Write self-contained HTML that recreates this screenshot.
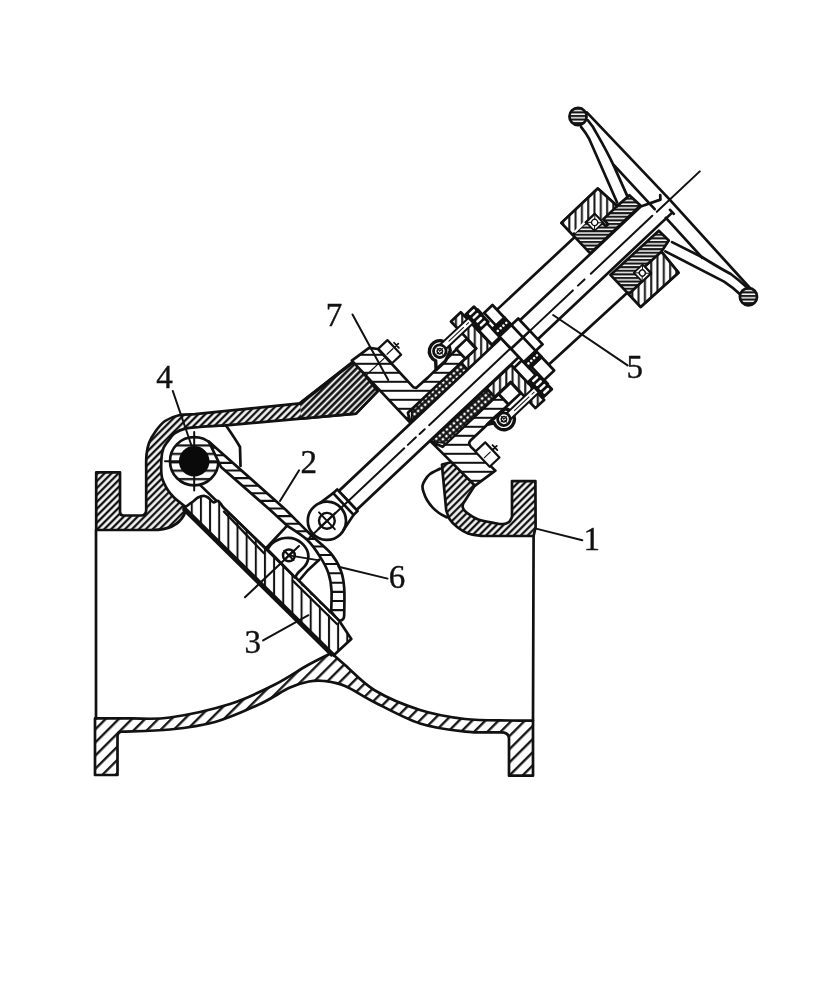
<!DOCTYPE html>
<html><head><meta charset="utf-8"><title>Valve</title>
<style>html,body{margin:0;padding:0;background:#fff}svg{display:block}</style></head>
<body>
<svg width="833" height="994" viewBox="0 0 833 994">
<rect width="833" height="994" fill="#fff"/>
<defs><filter id="nf" x="0" y="0" width="833" height="994" filterUnits="userSpaceOnUse"><feOffset dx="0" dy="0"/></filter></defs>

<defs>
<pattern id="h45" width="6.2" height="6.2" patternUnits="userSpaceOnUse" patternTransform="rotate(-45)"><rect width="6.2" height="6.2" fill="#fff"/><line x1="0" y1="3" x2="6.2" y2="3" stroke="#111" stroke-width="2"/></pattern>
<pattern id="h45b" width="9.3" height="9.3" patternUnits="userSpaceOnUse" patternTransform="rotate(-45) translate(0,2.5)"><rect width="9.3" height="9.3" fill="#fff"/><line x1="0" y1="4" x2="9.3" y2="4" stroke="#111" stroke-width="2.3"/></pattern>
<pattern id="h45d" width="4.5" height="4.5" patternUnits="userSpaceOnUse" patternTransform="rotate(-45)"><rect width="4.5" height="4.5" fill="#fff"/><line x1="0" y1="2" x2="4.5" y2="2" stroke="#111" stroke-width="2.1"/></pattern>
<pattern id="h45k" width="4.6" height="4.6" patternUnits="userSpaceOnUse" patternTransform="rotate(-45)"><rect width="4.6" height="4.6" fill="#fff"/><line x1="0" y1="2" x2="4.6" y2="2" stroke="#111" stroke-width="2.75"/></pattern>
<pattern id="h45e" width="5.3" height="5.3" patternUnits="userSpaceOnUse" patternTransform="rotate(-45)"><rect width="5.3" height="5.3" fill="#fff"/><line x1="0" y1="2" x2="5.3" y2="2" stroke="#111" stroke-width="2.3"/></pattern>
<clipPath id="cpA"><rect x="140" y="380" width="161" height="72"/></clipPath>
<pattern id="h45r" width="4.9" height="4.9" patternUnits="userSpaceOnUse" patternTransform="rotate(-45)"><rect width="4.9" height="4.9" fill="#fff"/><line x1="0" y1="2" x2="4.9" y2="2" stroke="#111" stroke-width="2.4"/></pattern>
<pattern id="hh" width="9" height="9" patternUnits="userSpaceOnUse"><rect width="9" height="9" fill="#fff"/><line x1="0" y1="4" x2="9" y2="4" stroke="#111" stroke-width="2"/></pattern>
<pattern id="hh7" width="8.4" height="8.4" patternUnits="userSpaceOnUse" patternTransform="translate(0,4.7)"><rect width="8.4" height="8.4" fill="#fff"/><line x1="0" y1="4" x2="8.4" y2="4" stroke="#111" stroke-width="2.2"/></pattern>
<pattern id="hh6" width="7.2" height="7.2" patternUnits="userSpaceOnUse"><rect width="7.2" height="7.2" fill="#fff"/><line x1="0" y1="3" x2="7.2" y2="3" stroke="#111" stroke-width="2"/></pattern>
<pattern id="hh3" width="3.6" height="3.6" patternUnits="userSpaceOnUse"><rect width="3.6" height="3.6" fill="#fff"/><line x1="0" y1="2" x2="3.6" y2="2" stroke="#111" stroke-width="1.8"/></pattern>
<pattern id="hv" width="9.15" height="9.15" patternUnits="userSpaceOnUse" patternTransform="translate(196.3,0)"><rect width="9.15" height="9.15" fill="#fff"/><line x1="4.6" y1="0" x2="4.6" y2="9.15" stroke="#111" stroke-width="2"/></pattern>
<pattern id="hv6" width="6" height="6" patternUnits="userSpaceOnUse"><rect width="6" height="6" fill="#fff"/><line x1="3" y1="0" x2="3" y2="6" stroke="#111" stroke-width="2"/></pattern>
<pattern id="hx" width="4.2" height="4.2" patternUnits="userSpaceOnUse" patternTransform="rotate(45)"><rect width="4.2" height="4.2" fill="#fff"/><path d="M0 2H4.2M2 0V4.2" stroke="#111" stroke-width="1.3"/></pattern>
</defs>
<path d="M95.0 718.4C100.8 718.4 117.5 718.5 130.0 718.4 C142.5 718.2 153.3 719.9 170.0 717.5 C186.7 715.1 212.5 709.5 230.0 704.0 C247.5 698.5 262.0 691.0 275.0 684.5 C288.0 678.0 298.6 670.2 308.0 665.0 C317.4 659.8 327.6 655.0 331.5 653.0C333.8 655.0 337.8 658.8 345.0 665.0 C352.2 671.2 362.5 683.0 375.0 690.5 C387.5 698.0 405.0 705.2 420.0 710.0 C435.0 714.8 450.0 717.2 465.0 719.0 C480.0 720.8 498.7 720.2 510.0 720.5 C521.3 720.8 529.2 720.5 533.0 720.5L533.0 775.7 L509.0 775.7 L509.0 738.5Q509 732.3 501 732.3C495.0 732.2 478.5 733.1 465.0 731.6 C451.5 730.1 435.0 728.4 420.0 723.5 C405.0 718.6 387.5 708.8 375.0 702.5 C362.5 696.2 353.5 689.6 345.0 686.0 C336.5 682.4 330.0 681.8 324.0 681.0 C318.0 680.2 314.7 680.4 309.0 681.5 C303.3 682.6 298.2 683.8 290.0 687.5 C281.8 691.2 272.5 698.2 260.0 704.0 C247.5 709.8 230.0 717.8 215.0 722.0 C200.0 726.2 185.5 727.9 170.0 729.5 C154.5 731.1 130.0 731.2 122.0 731.6Q117.5 731.6 117.5 736.5L117.5 775.0 L95.0 775.0Z" fill="url(#h45b)" stroke="#111" stroke-width="2.7" stroke-linejoin="round" stroke-linecap="round" />
<path d="M96 530V718.4" fill="none" stroke="#111" stroke-width="2.7" stroke-linejoin="round" stroke-linecap="round" />
<path d="M533.6 536L533 720.5" fill="none" stroke="#111" stroke-width="2.7" stroke-linejoin="round" stroke-linecap="round" />
<path d="M96.2 472.4L120.0 472.4 L120.0 512.0Q120 515.5 123.5 515.5L141.0 515.5Q146.2 515.5 146.2 510L146.2 470.0C146.2 467.5 146.0 459.5 146.5 455.0 C147.0 450.5 147.5 447.0 149.0 443.0 C150.5 439.0 152.9 434.9 155.6 431.2 C158.3 427.5 161.1 423.7 165.0 421.0 C168.9 418.3 174.0 416.3 179.0 415.2 C184.0 414.1 192.3 414.4 195.0 414.2L300.2 403.4 L354.3 361.1 L377.6 391.2 L356.0 413.6 L226.0 425.3C221.7 425.6 206.8 426.4 200.0 427.0 C193.2 427.6 189.5 427.6 185.3 428.6 C181.1 429.6 177.6 431.3 175.0 433.0 C172.4 434.7 171.5 436.5 169.6 439.0 C167.7 441.5 164.8 444.8 163.5 448.0 C162.2 451.2 161.8 453.5 161.5 458.0 C161.2 462.5 161.1 470.7 161.5 474.9 C161.9 479.1 162.9 480.4 164.0 483.0 C165.1 485.6 166.4 488.1 168.1 490.5 C169.8 492.9 171.9 495.4 174.0 497.5 C176.1 499.6 178.5 501.3 180.6 503.0 C182.7 504.7 185.8 506.9 186.8 507.7L184.0 515.0Q176 530 152.4 530L96.2 530.0Z" fill="url(#h45r)" stroke="#111" stroke-width="2.7" stroke-linejoin="round" stroke-linecap="round" />
<path d="M300.2 403.4 L354.3 361.1 L377.6 391.2 L356 413.6 L301 418.6 Z" fill="url(#h45k)"/>
<path d="M301 418.6 L356 413.6 L377.6 391.2 L354.3 361.1" fill="none" stroke="#111" stroke-width="2.7" stroke-linejoin="round" stroke-linecap="round" />
<path d="M300.2 403.4 L354.3 361.1" fill="none" stroke="#111" stroke-width="3.4" stroke-linejoin="round" stroke-linecap="round" />
<path d="M226 425.5 Q236 440 240 447 L240.5 466" fill="none" stroke="#111" stroke-width="2.7" stroke-linejoin="round" stroke-linecap="round" />
<path d="M442.0 464.5L452.0 462.0 L474.8 485.6L463.2 503.5C463.1 504.2 462.3 506.1 462.8 507.5 C463.3 508.9 463.5 510.1 466.0 512.0 C468.5 514.0 473.0 517.4 477.6 519.2 C482.2 521.0 489.2 522.0 493.4 522.8 C497.6 523.6 500.4 524.3 503.0 524.2 C505.6 524.1 507.5 523.2 509.0 522.0 C510.5 520.8 511.5 517.8 512.0 517.0L512.0 481.1 L535.4 481.1 L535.6 527.3 L533.6 536.0 L482.4 536.0C480.0 535.6 472.2 535.0 468.0 533.5 C463.8 532.0 460.5 529.7 457.4 527.3 C454.3 524.9 451.4 521.9 449.5 519.0 C447.6 516.1 446.8 511.5 446.2 510.0L442.4 470.0Z" fill="url(#h45r)" stroke="#111" stroke-width="2.7" stroke-linejoin="round" stroke-linecap="round" />
<path d="M440.0 468.7C438.3 469.6 432.5 472.1 430.0 474.0 C427.5 475.9 426.2 478.0 425.0 480.0 C423.8 482.0 422.7 483.9 422.5 486.0 C422.3 488.1 422.9 490.1 423.7 492.4 C424.4 494.7 425.5 497.5 427.0 500.0 C428.5 502.5 430.5 505.2 432.5 507.4 C434.5 509.6 436.6 511.3 439.0 513.0 C441.4 514.7 445.7 516.7 447.0 517.4" fill="none" stroke="#111" stroke-width="2.7" stroke-linejoin="round" stroke-linecap="round" />
<circle cx="194.2" cy="461.2" r="24.2" fill="url(#hh7)" stroke="#111" stroke-width="2.7" stroke-linejoin="round" stroke-linecap="round"/>
<path d="M194.2 432V490.5 M165 461.2H180 M208 461.2H222" fill="none" stroke="#111" stroke-width="2" stroke-linejoin="round" stroke-linecap="round" />
<circle cx="194.2" cy="461.2" r="15.3" fill="#0a0a0a"/>
<clipPath id="cpArm"><path d="M208.7 441.4L286.0 510.0C290.1 514.1 303.1 527.3 310.5 534.5 C317.9 541.7 325.6 547.2 330.7 553.2 C335.8 559.2 338.6 564.7 340.8 570.5 C343.1 576.3 343.6 580.4 344.2 587.8 C344.8 595.2 344.2 610.5 344.2 615.0Q344.2 620.6 339.5 620.8 L337 619L331.2 611.5C331.2 608.0 331.9 597.1 331.5 590.7 C331.1 584.4 330.3 578.9 328.5 573.4 C326.7 567.9 324.1 563.1 320.6 557.6 C317.1 552.1 313.1 545.6 307.6 540.3 C302.1 535.0 290.9 528.3 287.5 525.9L270.2 510.0 L221.0 467.0Z"/></clipPath>
<path d="M208.7 441.4L286.0 510.0C290.1 514.1 303.1 527.3 310.5 534.5 C317.9 541.7 325.6 547.2 330.7 553.2 C335.8 559.2 338.6 564.7 340.8 570.5 C343.1 576.3 343.6 580.4 344.2 587.8 C344.8 595.2 344.2 610.5 344.2 615.0Q344.2 620.6 339.5 620.8 L337 619L331.2 611.5C331.2 608.0 331.9 597.1 331.5 590.7 C331.1 584.4 330.3 578.9 328.5 573.4 C326.7 567.9 324.1 563.1 320.6 557.6 C317.1 552.1 313.1 545.6 307.6 540.3 C302.1 535.0 290.9 528.3 287.5 525.9L270.2 510.0 L221.0 467.0Z" fill="#fff"/>
<path d="M200 610.1H350 M200 601.0H350 M200 591.9H350 M200 582.8H350 M200 573.2H350 M200 564.0H350 M200 555.0H350 M200 546.5H350 M200 538.9H350 M200 531.3H350 M200 523.7H350 M200 516.1H350 M200 508.5H350 M200 500.9H350 M200 493.3H350 M200 485.7H350 M200 478.1H350 M200 470.5H350 M200 462.9H350 M200 455.3H350 M200 447.7H350 M200 440.1H350 M200 432.5H350" stroke="#111" stroke-width="2.1" fill="none" clip-path="url(#cpArm)"/>
<path d="M208.7 441.4L286.0 510.0C290.1 514.1 303.1 527.3 310.5 534.5 C317.9 541.7 325.6 547.2 330.7 553.2 C335.8 559.2 338.6 564.7 340.8 570.5 C343.1 576.3 343.6 580.4 344.2 587.8 C344.8 595.2 344.2 610.5 344.2 615.0Q344.2 620.6 339.5 620.8 L337 619L331.2 611.5C331.2 608.0 331.9 597.1 331.5 590.7 C331.1 584.4 330.3 578.9 328.5 573.4 C326.7 567.9 324.1 563.1 320.6 557.6 C317.1 552.1 313.1 545.6 307.6 540.3 C302.1 535.0 290.9 528.3 287.5 525.9L270.2 510.0 L221.0 467.0Z" fill="none" stroke="#111" stroke-width="2.7" stroke-linejoin="round" stroke-linecap="round" />
<path d="M201 485.9 L265.8 548.5 L286.7 526.2" fill="none" stroke="#111" stroke-width="2.7" stroke-linejoin="round" stroke-linecap="round" />
<path d="M183.6 508.2C185.3 507.0 191.3 502.8 193.7 501.0 C196.1 499.2 196.3 498.4 198.0 497.5 C199.7 496.6 202.1 495.9 203.8 495.9 C205.5 495.9 206.8 496.8 208.0 497.5 C209.2 498.2 210.0 499.5 211.0 500.3 C212.0 501.1 212.7 502.3 213.9 502.4 C215.1 502.5 216.6 500.1 218.2 501.0 C219.8 501.9 222.5 506.4 223.3 507.5L267.0 550.0 L295.6 577.5 L339.0 620.5 L351.3 639.0 L333.5 655.5Z" fill="url(#hv)" stroke="#111" stroke-width="2.7" stroke-linejoin="round" stroke-linecap="round" />
<line x1="183.6" y1="508.2" x2="333" y2="655.2" stroke="#111" stroke-width="5" stroke-linecap="butt"/>
<path d="M224 511.6 L264 553.2" fill="none" stroke="#111" stroke-width="2.3" stroke-linejoin="round" stroke-linecap="round" />
<path d="M294 579.2 L338 622.4" stroke="#fff" stroke-width="1.4" fill="none"/>
<path d="M292.7 580.6 L336.9 624" fill="none" stroke="#111" stroke-width="2.2" stroke-linejoin="round" stroke-linecap="round" />
<path d="M267.5 549.5C268.2 548.5 270.1 545.2 272.0 543.5 C273.9 541.8 276.6 540.4 278.8 539.5 C281.0 538.6 282.8 538.2 285.0 538.0 C287.2 537.8 289.6 537.7 291.8 538.1 C294.0 538.5 296.1 539.4 298.0 540.5 C299.9 541.6 301.8 543.0 303.3 544.6 C304.8 546.2 306.1 548.1 307.0 550.0 C307.9 551.9 308.3 554.2 308.4 556.1 C308.5 558.0 308.1 559.8 307.5 561.5 C306.9 563.2 306.4 564.2 304.8 566.2 C303.2 568.2 299.2 571.5 297.6 573.4 C296.0 575.3 295.8 577.0 295.4 577.7Z" fill="#fff" stroke="#111" stroke-width="2.7" stroke-linejoin="round" stroke-linecap="round" />
<path d="M319.2 559.7 L307.6 570.5 L300 579.5" fill="none" stroke="#111" stroke-width="2.7" stroke-linejoin="round" stroke-linecap="round" />
<circle cx="288.9" cy="555.4" r="5.9" fill="#fff" stroke="#111" stroke-width="2.5" stroke-linejoin="round" stroke-linecap="round"/>
<path d="M284.3 550.8L293.5 560M293.5 550.8L284.3 560" fill="none" stroke="#111" stroke-width="2" stroke-linejoin="round" stroke-linecap="round" />
<path d="M245 597.3 L299 546" fill="none" stroke="#111" stroke-width="2" stroke-linejoin="round" stroke-linecap="round" />
<path d="M288.9 555.4 L319.2 560.4" fill="none" stroke="#111" stroke-width="1.9" stroke-linejoin="round" stroke-linecap="round" />
<defs>
<pattern id="Lhh" width="9" height="9" patternUnits="userSpaceOnUse" patternTransform="rotate(43.3) translate(0,1)"><rect width="9" height="9" fill="#fff"/><line x1="0" y1="4" x2="9" y2="4" stroke="#111" stroke-width="2"/></pattern>
<pattern id="Lhh3" width="3.6" height="3.6" patternUnits="userSpaceOnUse" patternTransform="rotate(43.3)"><rect width="3.6" height="3.6" fill="#fff"/><line x1="0" y1="2" x2="3.6" y2="2" stroke="#111" stroke-width="2.1"/></pattern>
<pattern id="Lhv" width="6.3" height="6.3" patternUnits="userSpaceOnUse" patternTransform="rotate(43.3)"><rect width="6.3" height="6.3" fill="#fff"/><line x1="3" y1="0" x2="3" y2="6.3" stroke="#111" stroke-width="2"/></pattern>
<pattern id="Lhx" width="4.7" height="4.7" patternUnits="userSpaceOnUse" patternTransform="rotate(2) translate(0,1.2)"><rect width="4.7" height="4.7" fill="#fff"/><path d="M0 2.35H4.7M2.35 0V4.7" stroke="#111" stroke-width="2.2"/></pattern>
<pattern id="Lh45" width="4.4" height="4.4" patternUnits="userSpaceOnUse" patternTransform="rotate(-1.7000000000000028)"><rect width="4.4" height="4.4" fill="#fff"/><line x1="0" y1="2" x2="4.4" y2="2" stroke="#111" stroke-width="1.9"/></pattern>
</defs>
<g transform="translate(326.9 520.8) rotate(-43.3)">
<path d="M269 -37 L375 -36.5 M269.5 38.5 L375 40" fill="none" stroke="#111" stroke-width="2.7" stroke-linejoin="round" stroke-linecap="round" />
<path d="M128.0 -99.5 L149.3 -97.0 L155.0 -90.0 L154.5 -38.0 L156.0 -35.5 L172.0 -35.0 L212.0 -36.0 L212.0 -23.0 L133.0 -23.0 L128.0 -14.0 Z" fill="url(#Lhh)" stroke="#111" stroke-width="2.7" stroke-linejoin="round" stroke-linecap="round" />
<path d="M128 -79 H153" fill="none" stroke="#111" stroke-width="1.2" stroke-linejoin="round" stroke-linecap="round" />
<path d="M130 14 L132 76 L157 79 L155.5 45 Q155.5 40 160 40 L212 40 L212 25.5 L135 25.5 Z" fill="url(#Lhh)" stroke="#111" stroke-width="2.7" stroke-linejoin="round" stroke-linecap="round" />
<path d="M129.0 -13.5 L138.0 -22.5 L206.0 -23.0 L206.0 -13.5 Z" fill="url(#Lhx)" stroke="#111" stroke-width="1.8" stroke-linejoin="round" stroke-linecap="round" />
<path d="M130.0 13.0 L140.0 25.5 L207.0 25.5 L207.0 13.0 Z" fill="url(#Lhx)" stroke="#111" stroke-width="1.8" stroke-linejoin="round" stroke-linecap="round" />
<path d="M183 -35 L188.9 -41.8 A10.5 10.5 0 1 1 206.5 -39.2 L 196 -35 Z" fill="#fff" stroke="#111" stroke-width="3.4" stroke-linejoin="round" stroke-linecap="round" />
<path d="M183 40 L188.9 43.3 A10.5 10.5 0 1 0 206.5 40.7 L 196 40 Z" fill="#fff" stroke="#111" stroke-width="3.4" stroke-linejoin="round" stroke-linecap="round" />
<path d="M206.0 -23.0 L227.0 -23.0 L227.0 -60.0 L240.5 -60.0 L240.5 -13.0 L206.0 -13.0 Z" fill="url(#Lhv)" stroke="#111" stroke-width="2.7" stroke-linejoin="round" stroke-linecap="round" />
<path d="M207.0 25.0 L229.0 25.0 L229.0 61.0 L241.0 61.0 L241.0 13.0 L207.0 13.0 Z" fill="url(#Lhv)" stroke="#111" stroke-width="2.7" stroke-linejoin="round" stroke-linecap="round" />
<path d="M155.5 -90.0 L168.0 -90.0 L168.0 -70.0 L155.5 -70.0 Z" fill="#fff" stroke="#111" stroke-width="2.2" stroke-linejoin="round" stroke-linecap="round" />
<path d="M168 -80 H173.5 M171 -83.5 V-76.5" fill="none" stroke="#111" stroke-width="1.8" stroke-linejoin="round" stroke-linecap="round" />
<path d="M158 -80 H166" fill="none" stroke="#111" stroke-width="1.2" stroke-linejoin="round" stroke-linecap="round" />
<path d="M155.5 51.5 L169.0 51.5 L169.0 72.3 L155.5 72.3 Z" fill="#fff" stroke="#111" stroke-width="2.2" stroke-linejoin="round" stroke-linecap="round" />
<path d="M169 62 H175 M172.5 58.5 V65.5" fill="none" stroke="#111" stroke-width="1.8" stroke-linejoin="round" stroke-linecap="round" />
<path d="M158 62 H166" fill="none" stroke="#111" stroke-width="1.2" stroke-linejoin="round" stroke-linecap="round" />
<path d="M212.0 -36.5 L226.5 -36.5 L226.5 -23.0 L212.0 -23.0 Z" fill="#fff" stroke="#111" stroke-width="2.7" stroke-linejoin="round" stroke-linecap="round" />
<path d="M212.0 25.5 L228.5 25.5 L228.5 40.0 L212.0 40.0 Z" fill="#fff" stroke="#111" stroke-width="2.7" stroke-linejoin="round" stroke-linecap="round" />
<path d="M203.0 -50.5 L255.0 -50.5 L255.0 -43.5 L203.0 -43.5 Z" fill="#fff" stroke="#111" stroke-width="2" stroke-linejoin="round" stroke-linecap="round" />
<path d="M203.0 45.0 L255.0 45.0 L255.0 52.0 L203.0 52.0 Z" fill="#fff" stroke="#111" stroke-width="2" stroke-linejoin="round" stroke-linecap="round" />
<path d="M212 -47 H232 M236 -47 H239 M243 -47 H252" fill="none" stroke="#111" stroke-width="1" stroke-linejoin="round" stroke-linecap="round" />
<path d="M212 48.5 H232 M236 48.5 H239 M243 48.5 H252" fill="none" stroke="#111" stroke-width="1" stroke-linejoin="round" stroke-linecap="round" />
<circle cx="198.5" cy="-46.0" r="6.3" fill="#fff" stroke="#111" stroke-width="2.8" stroke-linejoin="round" stroke-linecap="round"/>
<circle cx="198.5" cy="-46.0" r="2.6" fill="none" stroke="#111" stroke-width="1.4" stroke-linejoin="round" stroke-linecap="round"/>
<path d="M198.5 -50.0 v8 M194.5 -46.0 h8" fill="none" stroke="#111" stroke-width="1" stroke-linejoin="round" stroke-linecap="round" />
<circle cx="198.5" cy="47.5" r="6.3" fill="#fff" stroke="#111" stroke-width="2.8" stroke-linejoin="round" stroke-linecap="round"/>
<circle cx="198.5" cy="47.5" r="2.6" fill="none" stroke="#111" stroke-width="1.4" stroke-linejoin="round" stroke-linecap="round"/>
<path d="M198.5 43.5 v8 M194.5 47.5 h8" fill="none" stroke="#111" stroke-width="1" stroke-linejoin="round" stroke-linecap="round" />
<path d="M241.0 -37.5 L252.0 -37.5 L252.0 -15.0 L241.0 -15.0 Z" fill="#fff" stroke="#111" stroke-width="2.7" stroke-linejoin="round" stroke-linecap="round" />
<path d="M241.0 17.0 L252.0 17.0 L252.0 38.5 L241.0 38.5 Z" fill="#fff" stroke="#111" stroke-width="2.7" stroke-linejoin="round" stroke-linecap="round" />
<path d="M242.5 -55.0 L254.0 -55.0 L254.0 -34.0 L242.5 -34.0 Z" fill="#111" stroke="#111" stroke-width="2.7" stroke-linejoin="round" stroke-linecap="round" />
<rect x="245" y="-53.6" width="7.5" height="2.5" rx="1.2" fill="#fff"/>
<rect x="245" y="-48.4" width="7.5" height="2.5" rx="1.2" fill="#fff"/>
<rect x="245" y="-43.1" width="7.5" height="2.5" rx="1.2" fill="#fff"/>
<rect x="245" y="-37.9" width="7.5" height="2.5" rx="1.2" fill="#fff"/>
<path d="M242.5 37.0 L254.0 37.0 L254.0 58.5 L242.5 58.5 Z" fill="#111" stroke="#111" stroke-width="2.7" stroke-linejoin="round" stroke-linecap="round" />
<rect x="245" y="38.4" width="7.5" height="2.6" rx="1.2" fill="#fff"/>
<rect x="245" y="43.8" width="7.5" height="2.6" rx="1.2" fill="#fff"/>
<rect x="245" y="49.1" width="7.5" height="2.6" rx="1.2" fill="#fff"/>
<rect x="245" y="54.5" width="7.5" height="2.6" rx="1.2" fill="#fff"/>
<path d="M257.0 -43.5 L268.5 -43.5 L268.5 -26.0 L257.0 -26.0 Z" fill="#fff" stroke="#111" stroke-width="2.7" stroke-linejoin="round" stroke-linecap="round" />
<path d="M254.5 28.0 L268.5 28.0 L268.5 46.5 L254.5 46.5 Z" fill="#fff" stroke="#111" stroke-width="2.7" stroke-linejoin="round" stroke-linecap="round" />
<path d="M257 -26 V-16 M268.5 -26 V-16 M254.5 19.5 V28 M268.5 19.5 V28" fill="none" stroke="#111" stroke-width="2.7" stroke-linejoin="round" stroke-linecap="round" />
<path d="M252.0 -26.0 L268.5 -26.0 L268.5 -16.0 L252.0 -16.0 Z" fill="#111" stroke="#111" stroke-width="2.7" stroke-linejoin="round" stroke-linecap="round" />
<path d="M252.0 19.5 L268.5 19.5 L268.5 28.0 L252.0 28.0 Z" fill="#111" stroke="#111" stroke-width="2.7" stroke-linejoin="round" stroke-linecap="round" />
<circle cx="254.6" cy="-21" r="1.3" fill="#fff"/>
<circle cx="254.6" cy="23.7" r="1.3" fill="#fff"/>
<circle cx="258.5" cy="-21" r="1.3" fill="#fff"/>
<circle cx="258.5" cy="23.7" r="1.3" fill="#fff"/>
<circle cx="262.4" cy="-21" r="1.3" fill="#fff"/>
<circle cx="262.4" cy="23.7" r="1.3" fill="#fff"/>
<circle cx="266.3" cy="-21" r="1.3" fill="#fff"/>
<circle cx="266.3" cy="23.7" r="1.3" fill="#fff"/>
<path d="M29.0 -13.5 L252.0 -13.5 L252.0 12.5 L29.0 12.5 Z" fill="#fff" stroke="#111" stroke-width="2.7" stroke-linejoin="round" stroke-linecap="round" />
<path d="M278 -13.5 H444 L463 -5 V12.5 H278 Z" fill="#fff"/>
<path d="M278 -13.5 H444 L463 -5 L466 -8.5 M278 12.5 H463 M463 9 V14.5" fill="none" stroke="#111" stroke-width="2.7" stroke-linejoin="round" stroke-linecap="round" />
<path d="M252.0 -16.0 L278.0 -16.0 L278.0 19.5 L252.0 19.5 Z" fill="#fff" stroke="#111" stroke-width="2.7" stroke-linejoin="round" stroke-linecap="round" />
<path d="M268.5 -16 V19.5 M252 1 H278" fill="none" stroke="#111" stroke-width="2.7" stroke-linejoin="round" stroke-linecap="round" />
<path d="M7.5 -17.6 L23.5 -15.8 L23.5 14 L6 18.1 Z" fill="#fff"/>
<circle cx="0" cy="0" r="19.1" fill="#fff" stroke="#111" stroke-width="2.7" stroke-linejoin="round" stroke-linecap="round"/>
<path d="M23.5 -15.8 L7.5 -17.6 M23.5 14 L6 18.1" fill="none" stroke="#111" stroke-width="2.7" stroke-linejoin="round" stroke-linecap="round" />
<path d="M23.5 -15.8 L29.0 -15.8 L29.0 14.0 L23.5 14.0 Z" fill="#fff" stroke="#111" stroke-width="2.7" stroke-linejoin="round" stroke-linecap="round" />
<circle cx="0" cy="0" r="7.9" fill="none" stroke="#111" stroke-width="2.4" stroke-linejoin="round" stroke-linecap="round"/>
<path d="M0 -11.5V11.5M-11.5 0H11.5" fill="none" stroke="#111" stroke-width="2" stroke-linejoin="round" stroke-linecap="round" />
<path d="M375.0 -56.0 L425.0 -56.0 L427.0 -30.0 L443.5 -29.5 L444.5 -14.5 L375.0 -14.0 Z" fill="url(#Lhh3)" stroke="#111" stroke-width="2.7" stroke-linejoin="round" stroke-linecap="round" />
<path d="M375.0 -56.0 L425.0 -56.0 L427.0 -30.0 L408.0 -30.0 L408.0 -23.0 L405.0 -23.0 L405.0 -39.5 L375.0 -39.5 Z" fill="url(#Lhv)" stroke="#111" stroke-width="2.7" stroke-linejoin="round" stroke-linecap="round" />
<path d="M393.5 -39.5 L405.5 -39.5 L405.5 -27.5 L393.5 -27.5 Z" fill="#fff" stroke="#111" stroke-width="1.8" stroke-linejoin="round" stroke-linecap="round" />
<circle cx="399.5" cy="-33.5" r="3" fill="#fff" stroke="#111" stroke-width="1.4"/>
<path d="M393.5 -39.5 L405.5 -27.5 M405.5 -39.5 L393.5 -27.5" fill="none" stroke="#111" stroke-width="1" stroke-linejoin="round" stroke-linecap="round" />
<circle cx="399.5" cy="-33.5" r="2.4" fill="#fff"/>
<path d="M378 -40.3 H392" stroke="#fff" stroke-width="2.2" fill="none"/>
<path d="M375.0 15.5 L440.5 16.5 L441.0 30.5 L428.0 33.5 L426.0 60.5 L375.0 59.5 Z" fill="url(#Lhh3)" stroke="#111" stroke-width="2.7" stroke-linejoin="round" stroke-linecap="round" />
<path d="M375.0 59.5 L426.0 60.5 L428.0 33.5 L405.5 33.0 L405.5 42.0 L375.0 42.0 Z" fill="url(#Lhv)" stroke="#111" stroke-width="2.7" stroke-linejoin="round" stroke-linecap="round" />
<path d="M393.5 30.0 L405.5 30.0 L405.5 42.0 L393.5 42.0 Z" fill="#fff" stroke="#111" stroke-width="1.8" stroke-linejoin="round" stroke-linecap="round" />
<path d="M393.5 30 L405.5 42 M405.5 30 L393.5 42" fill="none" stroke="#111" stroke-width="1" stroke-linejoin="round" stroke-linecap="round" />
<circle cx="399.5" cy="36" r="3" fill="#fff" stroke="#111" stroke-width="1.4"/>
<path d="M469.3 -119 L469.8 0 L467.5 122" fill="none" stroke="#111" stroke-width="2.7" stroke-linejoin="round" stroke-linecap="round" />
<path d="M455.1 -112.4 Q454.5 -104 452.8 -98 L429.5 -32.6" fill="none" stroke="#111" stroke-width="2.7" stroke-linejoin="round" stroke-linecap="round" />
<path d="M464.6 -112.7 Q464.3 -104 462 -97 Q457 -76 452.4 -62 L441.4 -30.5" fill="none" stroke="#111" stroke-width="2.7" stroke-linejoin="round" stroke-linecap="round" />
<path d="M452.8 -62 L452.3 -2" fill="none" stroke="#111" stroke-width="2.7" stroke-linejoin="round" stroke-linecap="round" />
<path d="M431.1 36 L453.1 98.3 Q455.5 108 456.1 119.6" fill="none" stroke="#111" stroke-width="2.7" stroke-linejoin="round" stroke-linecap="round" />
<path d="M442.3 33.9 L453.9 65.6 Q459 85 463.2 97.4 Q465 108 465.6 117" fill="none" stroke="#111" stroke-width="2.7" stroke-linejoin="round" stroke-linecap="round" />
<path d="M454.5 12 L453.6 66" fill="none" stroke="#111" stroke-width="2.7" stroke-linejoin="round" stroke-linecap="round" />
<circle cx="460" cy="-122" r="8.6" fill="url(#Lhh3)" stroke="#111" stroke-width="2.7" stroke-linejoin="round" stroke-linecap="round"/>
<circle cx="460.5" cy="126" r="8.6" fill="url(#Lhh3)" stroke="#111" stroke-width="2.7" stroke-linejoin="round" stroke-linecap="round"/>
<path d="M-24 0.3 H106 M111 0.3 H122 M127 0.4 H134 M140 0.5 H252 M278 1 H337 M344 1 H353 M361.5 1.2 H446 M452 1.4 H511" fill="none" stroke="#111" stroke-width="2" stroke-linejoin="round" stroke-linecap="round" />
</g>

<g stroke="#111" stroke-width="2" stroke-linecap="round" fill="none">
<path d="M172.8 391 L192.3 448"/>
<path d="M299.1 470.3 L280 501"/>
<path d="M352.5 314.5 L388.2 380"/>
<path d="M553.1 315 L627.6 365.4"/>
<path d="M536 528.6 L582.3 540.3"/>
<path d="M338.6 566.7 L387.6 578.6"/>
<path d="M263.1 640.4 L308.5 615.2"/>
</g>
<g font-family="'Liberation Serif', serif" font-size="33px" fill="#111" stroke="#111" stroke-width="0.4" text-anchor="middle" style="will-change:transform" filter="url(#nf)">
<text x="164.5" y="387.8">4</text>
<text x="308.8" y="472.8">2</text>
<text x="334" y="326">7</text>
<text x="634.7" y="378.4">5</text>
<text x="591.7" y="549.7">1</text>
<text x="397" y="588.3">6</text>
<text x="252.7" y="653.4">3</text>
</g>
</svg>
</body></html>
